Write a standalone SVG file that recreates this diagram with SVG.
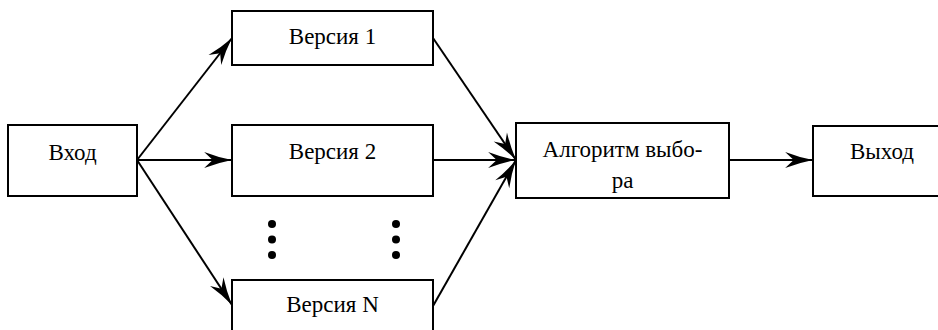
<svg xmlns="http://www.w3.org/2000/svg" width="938" height="330" viewBox="0 0 938 330">
  <style>
    .box { fill: #ffffff; stroke: #000000; stroke-width: 2; }
    .lbl { font-family: "Liberation Serif", "Times New Roman", serif; font-size: 23px; fill: #000000; text-anchor: middle; }
    .edge { fill: none; stroke: #000000; stroke-width: 2; marker-end: url(#barb); }
    .dot { fill: #000000; }
  </style>
  <defs>
    <marker id="barb" markerUnits="userSpaceOnUse" markerWidth="30" markerHeight="20" refX="0" refY="0" viewBox="-27 -9 28 18" orient="auto">
      <path d="M0,0 Q-13,-2.5 -26,-7.5 L-18,0 L-26,7.5 Q-13,2.5 0,0 Z" fill="#000000"/>
    </marker>
  </defs>

  <rect width="938" height="330" fill="#ffffff"/>

  <g id="connectors">
    <line class="edge" x1="137" y1="160" x2="232" y2="38"/>
    <line class="edge" x1="137" y1="160" x2="232" y2="160"/>
    <line class="edge" x1="137" y1="160" x2="232" y2="305"/>
    <line class="edge" x1="433" y1="38" x2="516" y2="160"/>
    <line class="edge" x1="433" y1="160" x2="516" y2="160"/>
    <line class="edge" x1="433" y1="306" x2="516" y2="160"/>
    <line class="edge" x1="729" y1="160" x2="813" y2="160"/>
  </g>

  <g id="input">
    <rect class="box" x="8" y="125" width="129" height="71"/>
    <text class="lbl" x="72.5" y="160">Вход</text>
  </g>

  <g id="version1">
    <rect class="box" x="232" y="11" width="201" height="54"/>
    <text class="lbl" x="332.5" y="44">Версия 1</text>
  </g>

  <g id="version2">
    <rect class="box" x="232" y="125" width="201" height="71"/>
    <text class="lbl" x="332.5" y="159">Версия 2</text>
  </g>

  <g id="ellipsis">
    <circle class="dot" cx="272" cy="224" r="4"/>
    <circle class="dot" cx="272" cy="239.5" r="4"/>
    <circle class="dot" cx="272" cy="255" r="4"/>
    <circle class="dot" cx="396" cy="224" r="4"/>
    <circle class="dot" cx="396" cy="239.5" r="4"/>
    <circle class="dot" cx="396" cy="255" r="4"/>
  </g>

  <g id="versionN">
    <rect class="box" x="232" y="280" width="201" height="60"/>
    <text class="lbl" x="332.5" y="312">Версия N</text>
  </g>

  <g id="selector">
    <rect class="box" x="516" y="123" width="213" height="75"/>
    <text class="lbl" x="622.5" y="157">Алгоритм выбо-</text>
    <text class="lbl" x="622.5" y="188">ра</text>
  </g>

  <g id="output">
    <rect class="box" x="813" y="126" width="140" height="70"/>
    <text class="lbl" x="882" y="159">Выход</text>
  </g>
</svg>
